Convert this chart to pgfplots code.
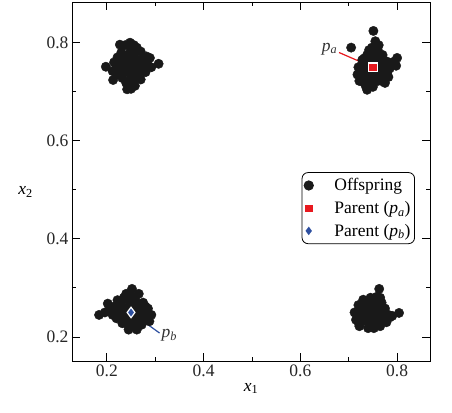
\documentclass[border=0pt]{standalone}
\usepackage{fontspec}
\setmainfont{Liberation Serif}
\usepackage{pgfplots}
\pgfplotsset{compat=1.18}
\definecolor{pred}{HTML}{E8191F}
\definecolor{pblue}{HTML}{2D4FA0}
\begin{document}
\begin{tikzpicture}
\begin{axis}[
  name=ax,
  scale only axis, width=358pt, height=359pt,
  xmin=0.128, xmax=0.868, ymin=0.151, ymax=0.883,
  font=\fontsize{17.5}{20}\selectfont,
  /pgf/number format/assume math mode=true,
  /pgf/number format/fixed, /pgf/number format/precision=1,
  xtick={0.2,0.4,0.6,0.8}, ytick={0.2,0.4,0.6,0.8},
  minor x tick num=1, minor y tick num=1,
  tick align=inside, major tick length=8pt, minor tick length=4pt,
  axis line style={line width=0.9pt}, tick style={line width=0.9pt, black},
  tick label style={text=black!85},
  xlabel={\textit{x}\textsubscript{1}},
  ylabel={\textit{x}\textsubscript{2}},
  ylabel style={rotate=-90, at={(ticklabel cs:0.47)}, xshift=-7pt},
  xlabel style={yshift=0pt},
  legend cell align=left,
  legend style={at={(0.958,0.526)}, anchor=north east, draw=black, line width=0.8pt,
    rounded corners=6pt, font=\fontsize{17.5}{20}\selectfont, row sep=5pt,
    column sep=19pt, inner xsep=2pt, inner ysep=4pt},
]
\addplot[only marks, mark=*, mark size=4.7pt, black, mark options={fill=black!90, draw=black!90}] coordinates {
(0.198,0.751) (0.307,0.757) (0.248,0.800) (0.250,0.706) (0.238,0.795) (0.262,0.790)
(0.230,0.780) (0.270,0.782) (0.215,0.760) (0.212,0.742) (0.222,0.735) (0.285,0.765)
(0.292,0.750) (0.280,0.740) (0.270,0.725) (0.258,0.712) (0.240,0.718) (0.232,0.728)
(0.245,0.760) (0.255,0.745) (0.250,0.735) (0.262,0.765) (0.238,0.748) (0.228,0.765)
(0.268,0.752) (0.275,0.770) (0.220,0.750) (0.242,0.775) (0.258,0.778) (0.248,0.725)
(0.265,0.738) (0.235,0.740) (0.252,0.755) (0.246,0.768) (0.272,0.760) (0.226,0.754)
(0.213,0.724) (0.289,0.769) (0.227,0.796)
(0.250,0.785) (0.235,0.762) (0.255,0.770) (0.265,0.748) (0.260,0.728) (0.244,0.740)
(0.230,0.745) (0.280,0.755) (0.252,0.718) (0.242,0.705) (0.275,0.745) (0.222,0.770)
(0.218,0.742) (0.282,0.772) (0.256,0.795) (0.246,0.752)
(0.751,0.824) (0.705,0.790) (0.800,0.769) (0.798,0.753) (0.738,0.704)
(0.755,0.803) (0.748,0.790) (0.760,0.785) (0.738,0.775) (0.770,0.775) (0.728,0.765)
(0.745,0.770) (0.778,0.762) (0.720,0.750) (0.735,0.755) (0.760,0.758) (0.785,0.748)
(0.718,0.735) (0.730,0.740) (0.755,0.740) (0.770,0.738) (0.782,0.730) (0.722,0.722)
(0.740,0.725) (0.760,0.722) (0.775,0.718) (0.735,0.712) (0.750,0.710) (0.745,0.735)
(0.765,0.750) (0.740,0.745) (0.728,0.728) (0.752,0.760) (0.766,0.730) (0.742,0.758)
(0.770,0.764) (0.790,0.760)
(0.750,0.778) (0.732,0.768) (0.725,0.752) (0.724,0.738) (0.738,0.732) (0.752,0.725)
(0.765,0.740) (0.778,0.748) (0.772,0.752) (0.758,0.768) (0.742,0.785) (0.762,0.795)
(0.730,0.720) (0.745,0.718) (0.768,0.722) (0.780,0.740) (0.755,0.750)
(0.184,0.245) (0.196,0.250) (0.202,0.268) (0.215,0.262) (0.212,0.245) (0.222,0.275)
(0.252,0.298) (0.240,0.288) (0.266,0.288) (0.230,0.270) (0.245,0.275) (0.260,0.272)
(0.275,0.270) (0.285,0.258) (0.292,0.245) (0.280,0.240) (0.225,0.250) (0.235,0.240)
(0.240,0.258) (0.258,0.258) (0.270,0.250) (0.265,0.235) (0.250,0.238) (0.232,0.228)
(0.245,0.222) (0.258,0.220) (0.272,0.225) (0.288,0.232) (0.238,0.248) (0.255,0.248)
(0.220,0.238) (0.262,0.215) (0.245,0.215) (0.280,0.262) (0.228,0.262)
(0.250,0.285) (0.258,0.280) (0.235,0.280) (0.225,0.262) (0.232,0.252) (0.248,0.265)
(0.265,0.262) (0.278,0.250) (0.282,0.245) (0.275,0.235) (0.260,0.228) (0.240,0.230)
(0.228,0.240) (0.250,0.228) (0.268,0.245) (0.218,0.252) (0.205,0.255)
(0.763,0.298) (0.804,0.249) (0.790,0.243) (0.758,0.282) (0.745,0.280) (0.730,0.276)
(0.720,0.265) (0.712,0.250) (0.715,0.235) (0.722,0.222) (0.740,0.218) (0.752,0.218)
(0.765,0.222) (0.778,0.230) (0.782,0.245) (0.775,0.258) (0.768,0.270) (0.740,0.265)
(0.755,0.262) (0.730,0.252) (0.745,0.248) (0.760,0.250) (0.770,0.240) (0.738,0.236)
(0.750,0.232) (0.762,0.235) (0.725,0.242) (0.752,0.272) (0.720,0.230)
(0.732,0.264) (0.745,0.258) (0.760,0.262) (0.770,0.255) (0.765,0.280) (0.722,0.252)
(0.735,0.245) (0.750,0.242) (0.765,0.245) (0.775,0.235) (0.755,0.225) (0.742,0.228)
(0.728,0.232) (0.718,0.245) (0.738,0.272) (0.772,0.248) (0.785,0.240)
};
\addlegendentry{Offspring}
\addplot[pred, line width=1.2pt, forget plot] coordinates {(0.680,0.780) (0.75,0.75)};
\addplot[pblue, line width=1.2pt, forget plot] coordinates {(0.25,0.25) (0.309,0.208)};
\addplot[only marks, mark=square*, mark size=4.2pt, mark options={fill=pred, draw=white, line width=1.2pt},
  legend image post style={mark size=3.2pt, mark options={fill=pred, draw=pred, line width=0.2pt}}] coordinates {(0.75,0.75)};
\addlegendentry{Parent (\textit{p}\textsubscript{\textit{a}})}
\addplot[only marks, mark=diamond*, mark size=5.2pt, mark options={fill=pblue, draw=white, line width=1.2pt},
  legend image post style={mark size=4pt, mark options={fill=pblue, draw=pblue, line width=0.2pt}}] coordinates {(0.25,0.25)};
\addlegendentry{Parent (\textit{p}\textsubscript{\textit{b}})}
\node[anchor=east, inner sep=1pt, text=black!80] at (axis cs:0.679,0.787) {\textit{p}\textsubscript{\textit{a}}};
\node[anchor=west, inner sep=1pt, text=black!80] at (axis cs:0.311,0.203) {\textit{p}\textsubscript{\textit{b}}};
\end{axis}
\pgfresetboundingbox
\useasboundingbox ([shift={(-72pt,-51pt)}]ax.south west) rectangle ([shift={(22pt,2pt)}]ax.north east);
\end{tikzpicture}
\end{document}
